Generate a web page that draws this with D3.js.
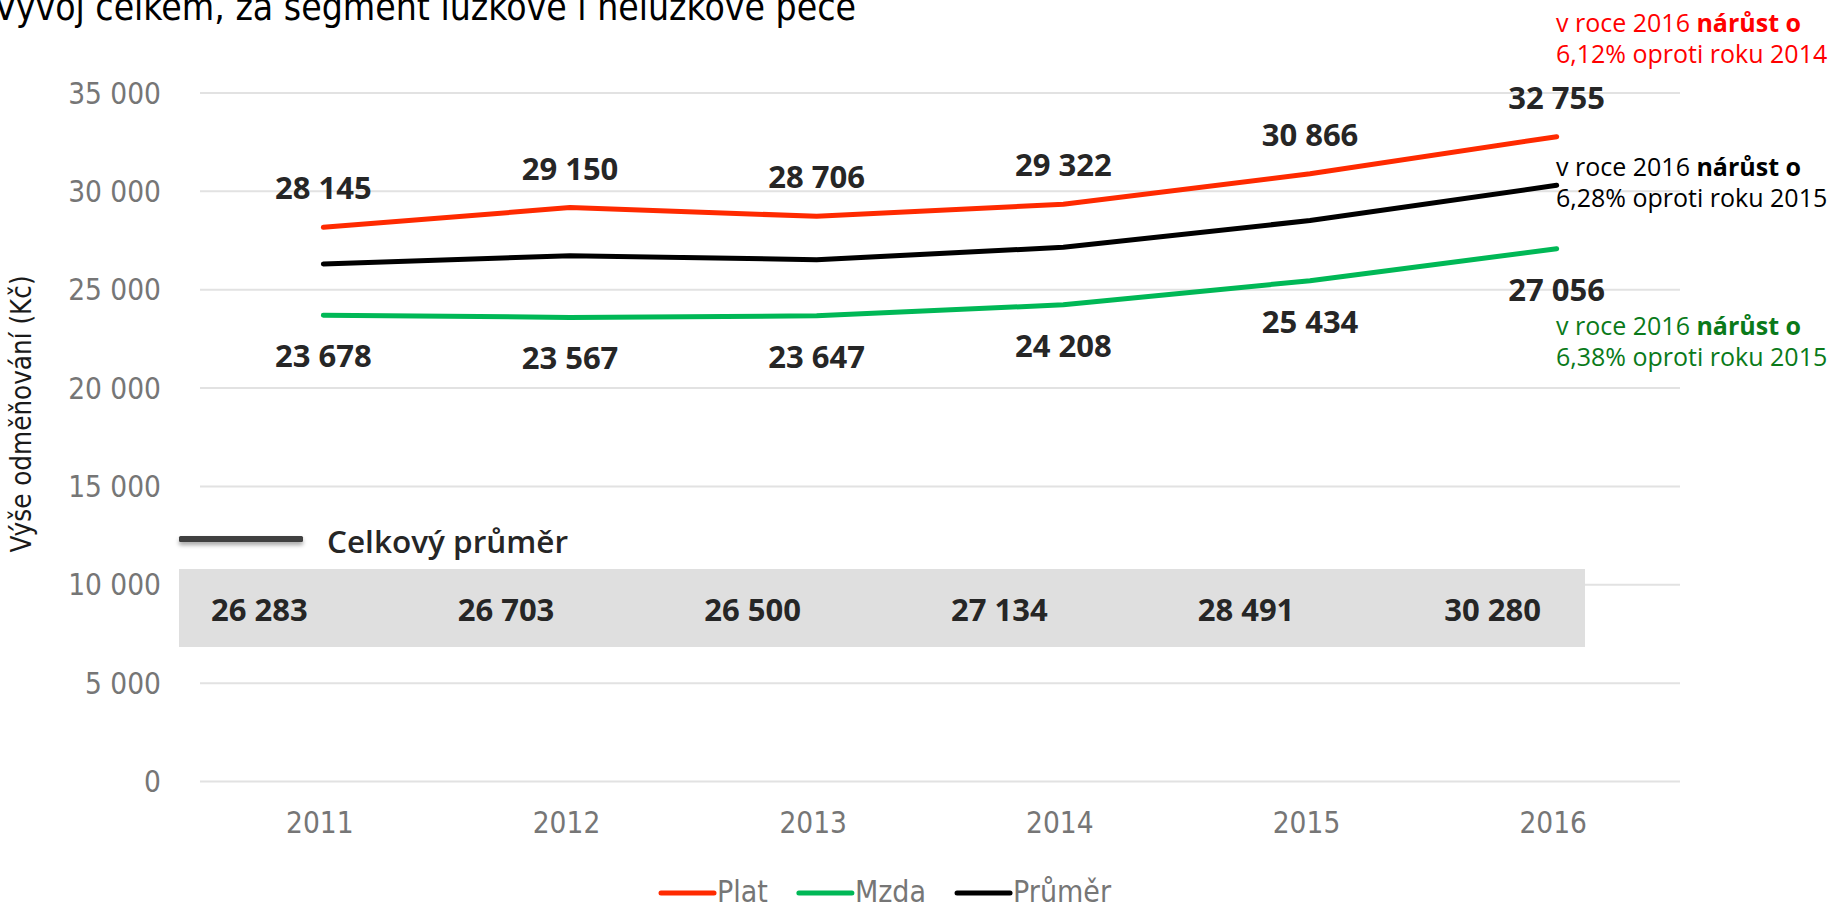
<!DOCTYPE html>
<html lang="cs">
<head>
<meta charset="utf-8">
<title>Vývoj celkem, za segment lůžkové i nelůžkové péče</title>
<script src="https://cdn.jsdelivr.net/npm/d3@7"></script>
<style>
  html, body { margin: 0; padding: 0; background: #fff; }
  svg { display: block; }
</style>
</head>
<body>
<svg id="chart" width="1837" height="903"></svg>
<script>
// Years on the category axis
const years = ["2011", "2012", "2013", "2014", "2015", "2016"];

// Average remuneration (Kč)
const platValues   = [28145, 29150, 28706, 29322, 30866, 32755];
const mzdaValues   = [23678, 23567, 23647, 24208, 25434, 27056];
const prumerValues = [26283, 26703, 26500, 27134, 28491, 30280];

// Value axis ticks
const yTicks = [0, 5000, 10000, 15000, 20000, 25000, 30000, 35000];

// Series names and legend entries
const seriesNames = ["Plat", "Mzda", "Průměr"];

// Growth notes shown beside the last year
const notePlat   = ["v roce 2016 ", "nárůst o", "6,12% oproti roku 2014"];
const notePrumer = ["v roce 2016 ", "nárůst o", "6,28% oproti roku 2015"];
const noteMzda   = ["v roce 2016 ", "nárůst o", "6,38% oproti roku 2015"];

const titleText = "Vývoj celkem, za segment lůžkové i nelůžkové péče";
const yAxisTitle = "Výše odměňování (Kč)";
const bandTitle = "Celkový průměr";

// ---------------------------------------------------------------
const svg = d3.select("#chart");

const colors = { Plat: "#ff2a00", Mzda: "#00b856", "Průměr": "#000000" };
const condensed = "'DejaVu Sans Condensed', 'DejaVu Sans', sans-serif";
const labelFont = "'Open Sans', 'Noto Sans', sans-serif";

const plot = { left: 200, right: 1680 };
const x = d3.scalePoint().domain(years).range([plot.left, plot.right]).padding(0.5);
const y = d3.scaleLinear().domain([0, 35000]).range([781, 92.5]);

const fmt = d3.formatLocale({ decimal: ",", thousands: " ", grouping: [3], currency: ["", " Kč"] }).format(",d");

// soft shadow under the average key line
const defs = svg.append("defs");
defs.append("filter").attr("id", "keyShadow")
  .attr("filterUnits", "userSpaceOnUse")
  .attr("x", 160).attr("y", 520).attr("width", 170).attr("height", 40)
  .append("feDropShadow").attr("dx", 0).attr("dy", 3).attr("stdDeviation", 2)
  .attr("flood-color", "#000").attr("flood-opacity", 0.35);

// Title (sits partly above the top edge)
svg.append("text")
  .attr("x", -6).attr("y", 20)
  .attr("font-family", condensed).attr("font-size", 37).attr("fill", "#000")
  .text(titleText);

// Y axis with gridlines
const yAxis = svg.append("g")
  .attr("transform", `translate(${plot.left},0)`)
  .call(d3.axisLeft(y).tickValues(yTicks).tickFormat(fmt)
    .tickSize(-(plot.right - plot.left)).tickPadding(39));
yAxis.select(".domain").remove();
yAxis.selectAll(".tick line").attr("stroke", "#e2e2e2").attr("stroke-width", 2);
yAxis.selectAll(".tick text")
  .attr("font-family", condensed).attr("font-size", 29.5).attr("fill", "#767676")
  .attr("dy", "0.36em");

// X axis labels
const xAxis = svg.append("g")
  .attr("transform", `translate(0,${y(0)})`)
  .call(d3.axisBottom(x).tickSize(0).tickPadding(31));
xAxis.select(".domain").remove();
xAxis.selectAll(".tick text")
  .attr("font-family", condensed).attr("font-size", 29.5).attr("fill", "#767676")
  .attr("dx", -4);

// Y axis title
svg.append("text")
  .attr("transform", `translate(31,${414}) rotate(-90)`)
  .attr("text-anchor", "middle")
  .attr("font-family", condensed).attr("font-size", 27.5).attr("fill", "#1a1a1a")
  .text(yAxisTitle);

// Band with the overall average values
const band = { x0: 179, x1: 1585, y0: 569, y1: 647 };
svg.append("rect")
  .attr("x", band.x0).attr("y", band.y0)
  .attr("width", band.x1 - band.x0).attr("height", band.y1 - band.y0)
  .attr("fill", "#dfdfdf");

svg.append("rect")
  .attr("x", 179).attr("y", 536).attr("width", 124).attr("height", 6).attr("rx", 1.5)
  .attr("fill", "#3f3f3f")
  .attr("filter", "url(#keyShadow)");
svg.append("text")
  .attr("x", 327).attr("y", 553)
  .attr("font-family", labelFont).attr("font-weight", 600).attr("font-size", 31.5).attr("fill", "#262626")
  .text(bandTitle);

svg.append("g").selectAll("text").data(prumerValues).join("text")
  .attr("x", (d, i) => x(years[i]) - 64)
  .attr("y", 621)
  .attr("text-anchor", "middle")
  .attr("font-family", labelFont).attr("font-weight", 700).attr("font-size", 31).attr("fill", "#262626")
  .text(d => fmt(d));

// Series lines
const line = d3.line().x((d, i) => x(years[i])).y(d => y(d));
const series = [
  { name: "Plat", values: platValues },
  { name: "Mzda", values: mzdaValues },
  { name: "Průměr", values: prumerValues }
];
svg.append("g").selectAll("path").data(series).join("path")
  .attr("d", s => line(s.values))
  .attr("fill", "none")
  .attr("stroke", s => colors[s.name])
  .attr("stroke-width", 5)
  .attr("stroke-linecap", "round")
  .attr("stroke-linejoin", "round");

// Value labels: Plat above, Mzda below
svg.append("g").selectAll("text").data(platValues).join("text")
  .attr("x", (d, i) => x(years[i]))
  .attr("y", d => y(d) - 28)
  .attr("text-anchor", "middle")
  .attr("font-family", labelFont).attr("font-weight", 700).attr("font-size", 31).attr("fill", "#262626")
  .text(d => fmt(d));

svg.append("g").selectAll("text").data(mzdaValues).join("text")
  .attr("x", (d, i) => x(years[i]))
  .attr("y", d => y(d) + 52)
  .attr("text-anchor", "middle")
  .attr("font-family", labelFont).attr("font-weight", 700).attr("font-size", 31).attr("fill", "#262626")
  .text(d => fmt(d));

// Growth notes
function note(lines, xPos, yPos, color) {
  const t = svg.append("text")
    .attr("x", xPos).attr("y", yPos)
    .attr("font-family", labelFont).attr("font-size", 25).attr("fill", color);
  t.append("tspan").text(lines[0]);
  t.append("tspan").attr("font-weight", 700).text(lines[1]);
  svg.append("text")
    .attr("x", xPos).attr("y", yPos + 31)
    .attr("font-family", labelFont).attr("font-size", 25).attr("fill", color)
    .text(lines[2]);
}
note(notePlat, 1556, 32, "#ff0000");
note(notePrumer, 1556, 176, "#000000");
note(noteMzda, 1556, 335, "#0a7a1a");

// Legend at the bottom
const legend = svg.append("g");
let cursor = 0;
seriesNames.forEach((name) => {
  const g = legend.append("g").attr("transform", `translate(${cursor},0)`);
  g.append("line").attr("x1", 2).attr("x2", 55).attr("y1", 893).attr("y2", 893)
    .attr("stroke", colors[name]).attr("stroke-width", 5).attr("stroke-linecap", "round");
  const t = g.append("text").attr("x", 58).attr("y", 902)
    .attr("font-family", condensed).attr("font-size", 30).attr("fill", "#767676")
    .text(name);
  cursor += 58 + t.node().getComputedTextLength() + 29;
});
const legendWidth = cursor - 29;
legend.attr("transform", `translate(${885 - legendWidth / 2},0)`);
</script>
</body>
</html>
